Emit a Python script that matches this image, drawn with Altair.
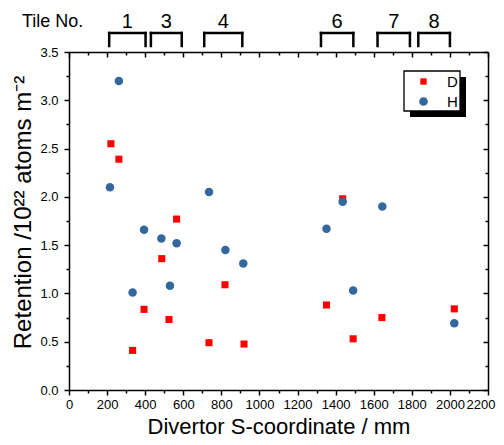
import altair as alt
import pandas as pd

# ---- data ----
d_x = [220, 262, 565, 487, 819, 394, 525, 735, 919, 334, 1352, 1437, 1492, 1643, 2023]
d_y = [2.55, 2.39, 1.77, 1.36, 1.09, 0.835, 0.73, 0.49, 0.476, 0.41, 0.88, 1.98, 0.53, 0.75, 0.84]

h_x = [262, 215, 735, 394, 485, 565, 821, 915, 530, 334, 1437, 1352, 1645, 1492, 2023]
h_y = [3.20, 2.10, 2.05, 1.66, 1.57, 1.52, 1.45, 1.31, 1.08, 1.01, 1.95, 1.67, 1.90, 1.03, 0.69]

tile_names = ["1", "3", "4", "6", "7", "8"]
tile_start = [211, 430, 710, 1323, 1620, 1834]
tile_end = [402, 592, 910, 1493, 1790, 2000]

x_major = [0, 200, 400, 600, 800, 1000, 1200, 1400, 1600, 1800, 2000, 2200]
x_minor = [100, 300, 500, 700, 900, 1100, 1300, 1500, 1700, 1900, 2100]
y_major = [0.0, 0.5, 1.0, 1.5, 2.0, 2.5, 3.0, 3.5]
y_minor = [0.25, 0.75, 1.25, 1.75, 2.25, 2.75, 3.25]

series_names = ["D", "H"]
series_colors = ["#ff0000", "#33689e"]
series_shapes = ["square", "circle"]
series_sizes = [50, 72]

# ---- tables ----
pts = pd.DataFrame(
    {"x": d_x + h_x, "y": d_y + h_y, "series": ["D"] * len(d_x) + ["H"] * len(h_x)}
)
tiles = pd.DataFrame(
    {
        "tile": tile_names,
        "start": tile_start,
        "end": tile_end,
        "center": [(a + b) / 2 for a, b in zip(tile_start, tile_end)],
    }
)
one = pd.DataFrame({"k": [0]})

W, H = 419, 338
FONT = "Liberation Sans"
xs = alt.Scale(domain=[0, 2200], nice=False, zero=False)
ys = alt.Scale(domain=[0, 3.5], nice=False, zero=False)
x_last = x_major[-1]

common = dict(
    grid=False,
    domainColor="black",
    tickColor="black",
    labelColor="black",
    titleColor="black",
    labelFont=FONT,
    titleFont=FONT,
    domainWidth=1.5,
    tickWidth=1.5,
)


def ax(**kw):
    d = dict(common)
    d.update(kw)
    return alt.Axis(**d)


# main points with labelled axes
main = (
    alt.Chart(pts)
    .mark_point(filled=True, opacity=1, strokeWidth=0)
    .encode(
        x=alt.X(
            "x:Q",
            scale=xs,
            axis=ax(
                orient="bottom",
                values=x_major,
                format="d",
                labelOverlap=False,
                labelFlush=False,
                labelAlign={
                    "condition": {"test": f"datum.value >= {x_last}", "value": "right"},
                    "value": "center",
                },
                labelOffset={
                    "condition": {"test": f"datum.value >= {x_last}", "value": 7},
                    "value": 0,
                },
                tickSize=5,
                labelFontSize=13,
                labelPadding=3,
                title="Divertor S-coordinate / mm",
                titleFontSize=22,
                titleFontWeight="normal",
                titleBaseline="alphabetic",
                titleY=43,
            ),
        ),
        y=alt.Y(
            "y:Q",
            scale=ys,
            axis=ax(
                orient="left",
                values=y_major,
                format=".1f",
                labelOverlap=False,
                labelFlush=False,
                tickSize=5,
                labelFontSize=13,
                labelPadding=6,
                title="Retention /10²² atoms m⁻²",
                titleFontSize=24,
                titleFontWeight="normal",
                titleBaseline="middle",
                titleX=-46,
                titleY=160,
            ),
        ),
        color=alt.Color(
            "series:N", scale=alt.Scale(domain=series_names, range=series_colors), legend=None
        ),
        shape=alt.Shape(
            "series:N", scale=alt.Scale(domain=series_names, range=series_shapes), legend=None
        ),
        size=alt.Size(
            "series:N", scale=alt.Scale(domain=series_names, range=series_sizes), legend=None
        ),
    )
)


def axis_layer(xaxis, yaxis):
    return (
        alt.Chart(pts)
        .mark_point(opacity=0)
        .encode(x=alt.X("x:Q", scale=xs, axis=xaxis), y=alt.Y("y:Q", scale=ys, axis=yaxis))
    )


minor_bl = axis_layer(
    ax(orient="bottom", values=x_minor, tickSize=3, labels=False, domain=False, title=""),
    ax(orient="left", values=y_minor, tickSize=3, labels=False, domain=False, title=""),
)
major_tr = axis_layer(
    ax(orient="bottom", offset=-H, values=x_major, tickSize=5, labels=False, title=""),
    ax(orient="left", offset=-W, values=y_major, tickSize=5, labels=False, title=""),
)
minor_tr = axis_layer(
    ax(orient="bottom", offset=-H, values=x_minor, tickSize=3, labels=False, domain=False, title=""),
    ax(orient="left", offset=-W, values=y_minor, tickSize=3, labels=False, domain=False, title=""),
)

# tile brackets above the plot
tb = alt.Chart(tiles)
bracket_top = tb.mark_rule(color="black", strokeWidth=2.5, strokeCap="square").encode(
    x=alt.X("start:Q", scale=xs, axis=None), x2="end:Q", y=alt.value(-19)
)
bracket_l = tb.mark_rule(color="black", strokeWidth=2.5, strokeCap="square").encode(
    x=alt.X("start:Q", scale=xs, axis=None), y=alt.value(-19), y2=alt.value(-6)
)
bracket_r = tb.mark_rule(color="black", strokeWidth=2.5, strokeCap="square").encode(
    x=alt.X("end:Q", scale=xs, axis=None), y=alt.value(-19), y2=alt.value(-6)
)
tile_text = tb.mark_text(fontSize=20, font=FONT, color="black", baseline="middle").encode(
    x=alt.X("center:Q", scale=xs, axis=None), y=alt.value(-30), text="tile:N"
)
tile_head = (
    alt.Chart(pd.DataFrame({"t": ["Tile No."]}))
    .mark_text(fontSize=18, font=FONT, color="black", align="left", baseline="middle")
    .encode(x=alt.value(-47), y=alt.value(-30), text="t:N")
)

# legend: shadow, box, entries
shadow = alt.Chart(one).mark_rect(color="black").encode(
    x=alt.value(341), x2=alt.value(397), y=alt.value(25), y2=alt.value(65)
)
box = alt.Chart(one).mark_rect(fill="white", stroke="black", strokeWidth=1.3).encode(
    x=alt.value(335), x2=alt.value(391), y=alt.value(19), y2=alt.value(59)
)
legend_layers = [shadow, box]
for i, (nm, col, shp, sz) in enumerate(zip(series_names, series_colors, series_shapes, [40, 75])):
    ry = 29.5 + 20 * i
    legend_layers.append(
        alt.Chart(one)
        .mark_point(filled=True, opacity=1, strokeWidth=0, shape=shp, color=col, size=sz)
        .encode(x=alt.value(354.5), y=alt.value(ry))
    )
    legend_layers.append(
        alt.Chart(pd.DataFrame({"t": [nm]}))
        .mark_text(fontSize=15, font=FONT, color="black", align="left", baseline="middle")
        .encode(x=alt.value(378), y=alt.value(ry), text="t:N")
    )

chart = (
    alt.layer(
        minor_bl,
        major_tr,
        minor_tr,
        main,
        bracket_top,
        bracket_l,
        bracket_r,
        tile_text,
        tile_head,
        *legend_layers,
    )
    .resolve_axis(x="independent", y="independent")
    .properties(
        width=W,
        height=H,
        autosize=alt.AutoSizeParams(type="none"),
        padding={"left": 61, "top": 44, "right": 8, "bottom": 47},
        background="white",
    )
    .configure_view(stroke=None)
)

chart.save("out.html", embed_options={"renderer": "svg", "actions": False})
